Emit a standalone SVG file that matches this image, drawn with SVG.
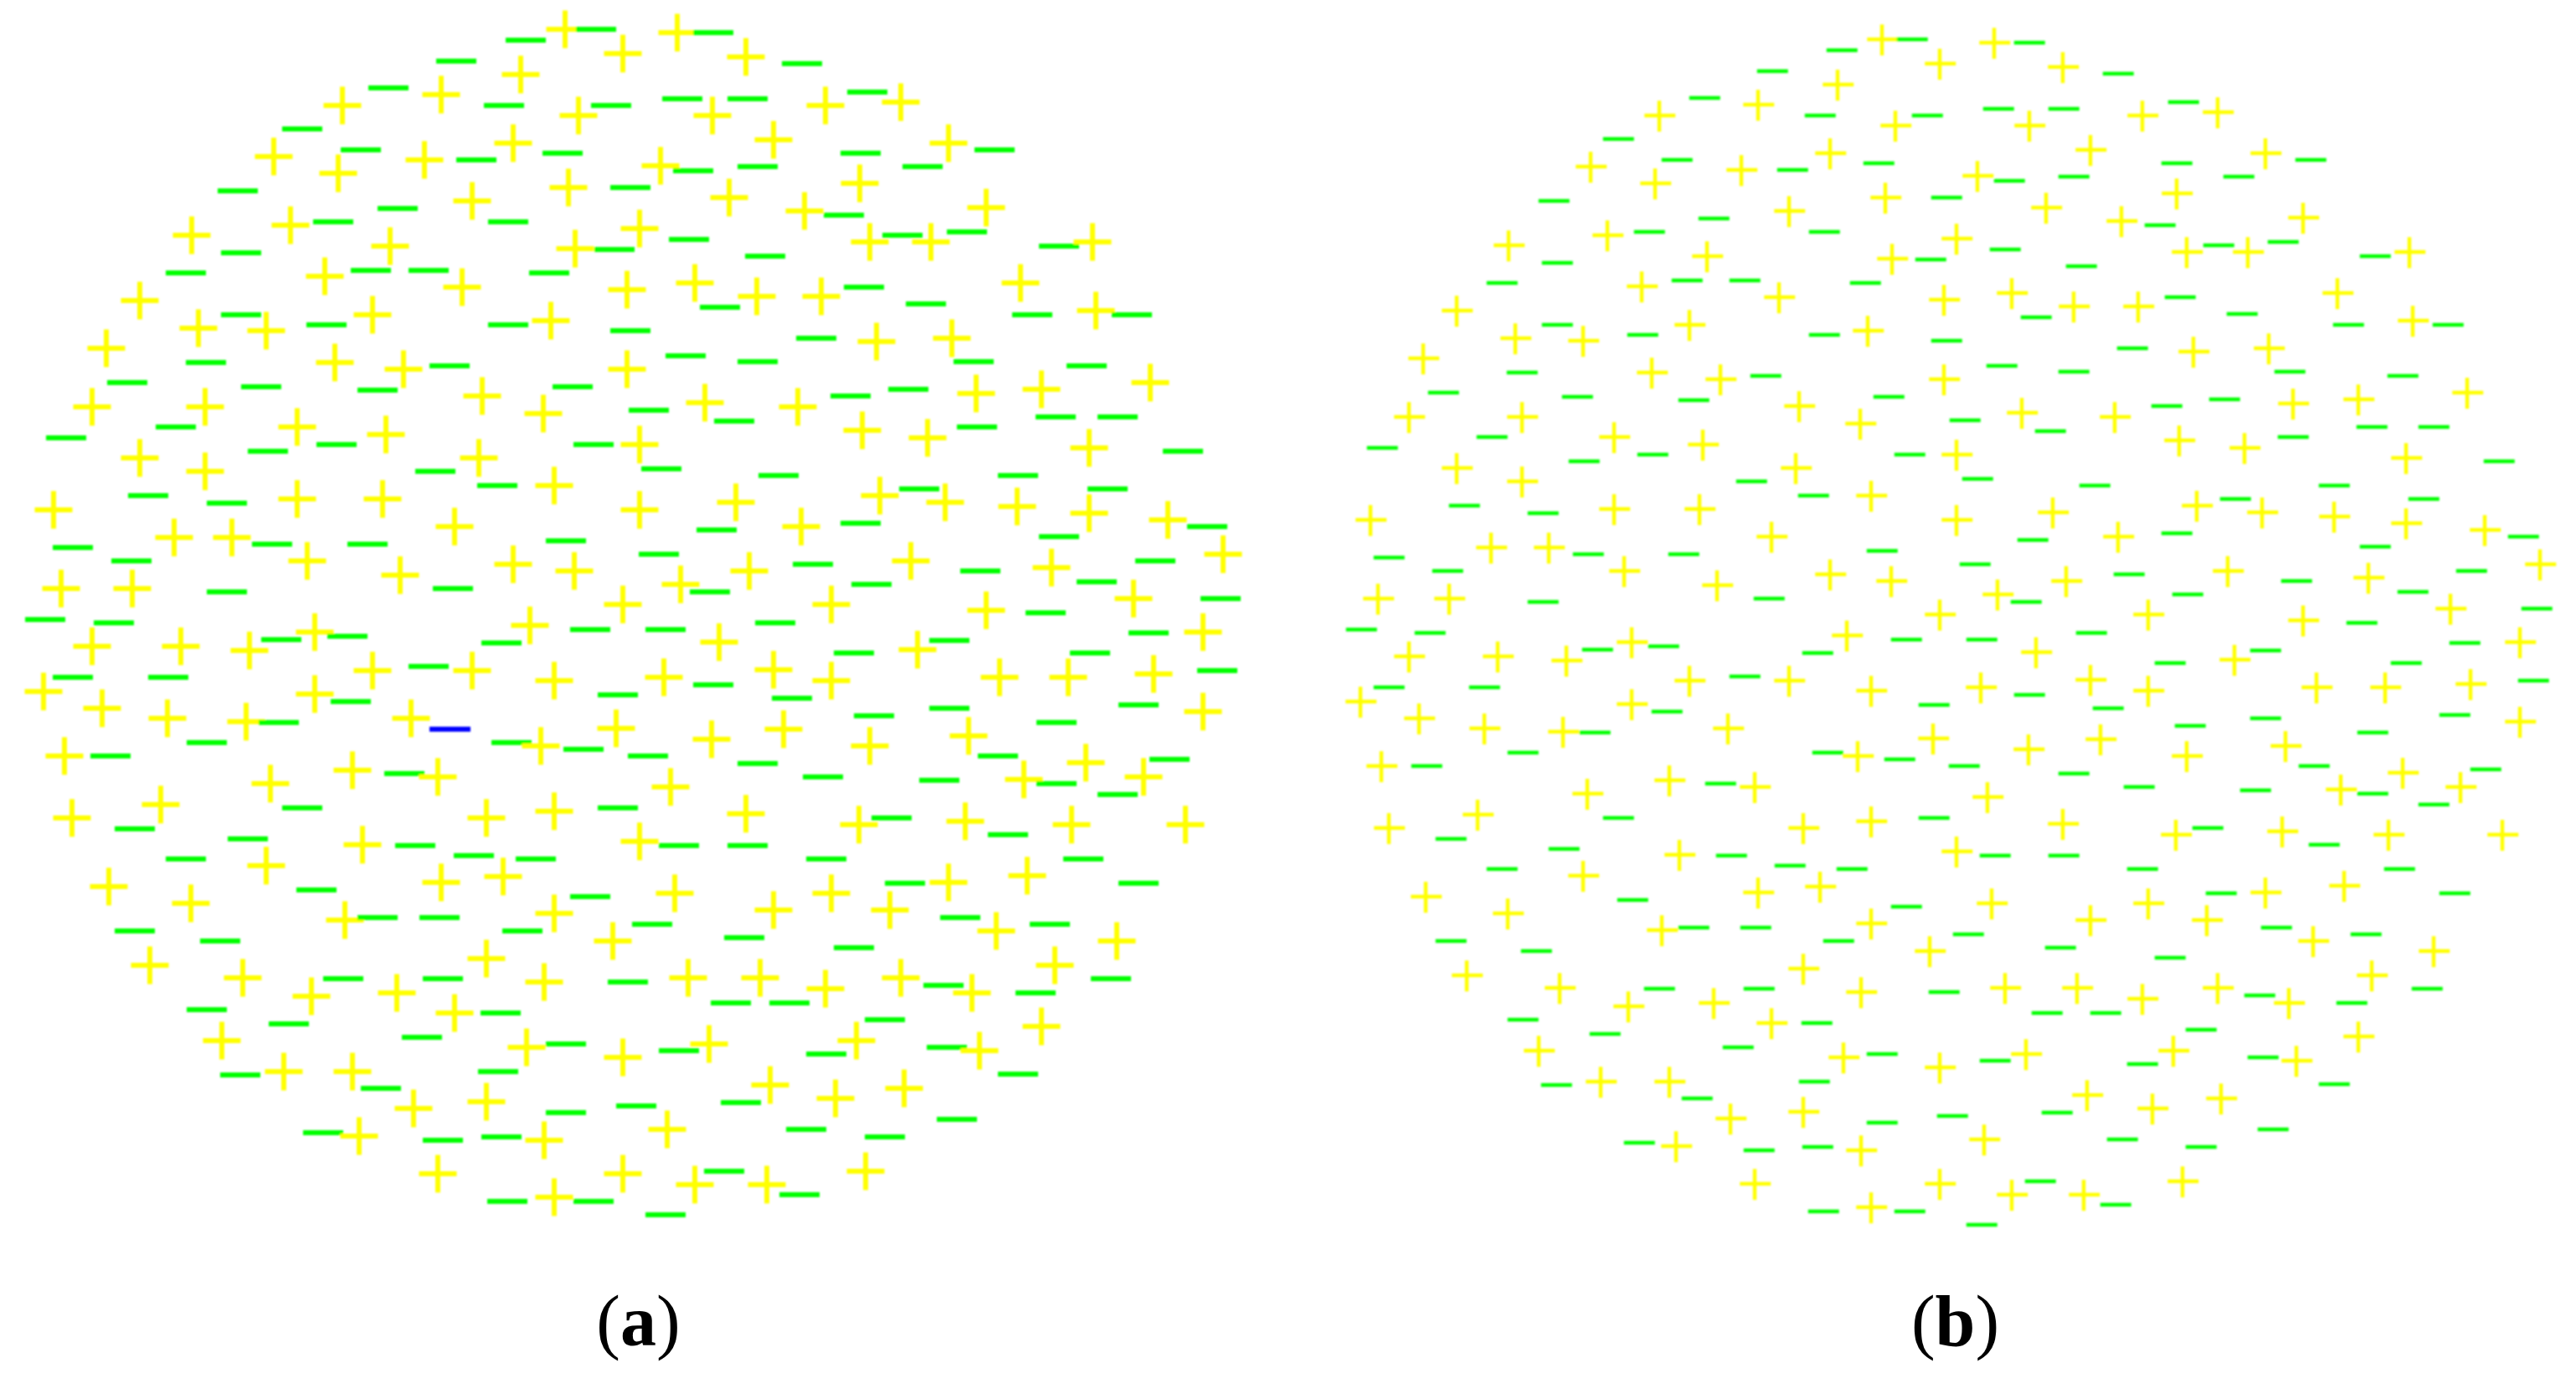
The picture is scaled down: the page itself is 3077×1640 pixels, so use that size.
<svg xmlns="http://www.w3.org/2000/svg" width="3077" height="1640" viewBox="0 0 3077 1640">
<style>
.pa{fill:none;stroke-width:6}
.pb{fill:none;stroke-width:4.5;stroke-dasharray:37 200;stroke-dashoffset:232.25}
.lbl{font-family:"Liberation Serif","Times New Roman",serif;font-size:86px;fill:#000;text-anchor:middle}
</style>
<defs>
<filter id="soft" x="-5%" y="-5%" width="110%" height="110%"><feGaussianBlur stdDeviation="1.1"/></filter>
<path id="P" d="M-22.5,0H22.5M0,-22.5V22.5" stroke="#ffff00"/>
<path id="M" d="M-24,0H24" stroke="#00ff00"/>
<g id="field">
<use href="#P" x="675" y="35"/><use href="#M" x="712" y="35"/><use href="#M" x="628" y="48"/><use href="#P" x="744" y="64"/><use href="#M" x="545" y="73"/><use href="#P" x="622" y="89"/><use href="#M" x="464" y="105"/><use href="#P" x="527" y="113"/><use href="#P" x="409" y="126"/><use href="#M" x="602" y="126"/><use href="#M" x="730" y="126"/><use href="#P" x="691" y="138"/><use href="#M" x="361" y="154"/><use href="#P" x="613" y="171"/><use href="#M" x="431" y="179"/><use href="#M" x="672" y="183"/><use href="#P" x="327" y="187"/><use href="#P" x="507" y="191"/><use href="#M" x="569" y="191"/><use href="#P" x="404" y="207"/><use href="#P" x="679" y="224"/><use href="#M" x="753" y="224"/><use href="#M" x="284" y="228"/><use href="#P" x="564" y="240"/><use href="#M" x="475" y="249"/><use href="#M" x="398" y="265"/><use href="#P" x="347" y="269"/><use href="#M" x="607" y="265"/><use href="#P" x="229" y="281"/><use href="#P" x="466" y="294"/><use href="#M" x="288" y="302"/><use href="#P" x="687" y="297"/><use href="#M" x="734" y="298"/><use href="#M" x="222" y="326"/><use href="#P" x="388" y="330"/><use href="#M" x="443" y="323"/><use href="#M" x="512" y="323"/><use href="#P" x="552" y="343"/><use href="#M" x="656" y="326"/><use href="#P" x="749" y="346"/><use href="#P" x="167" y="359"/><use href="#M" x="288" y="376"/><use href="#P" x="237" y="392"/><use href="#P" x="318" y="395"/><use href="#M" x="390" y="388"/><use href="#P" x="445" y="376"/><use href="#M" x="607" y="388"/><use href="#P" x="658" y="383"/><use href="#M" x="753" y="395"/><use href="#P" x="127" y="416"/><use href="#P" x="400" y="433"/><use href="#M" x="246" y="433"/><use href="#P" x="482" y="441"/><use href="#M" x="537" y="437"/><use href="#P" x="749" y="441"/><use href="#M" x="152" y="457"/><use href="#M" x="312" y="462"/><use href="#M" x="451" y="466"/><use href="#P" x="576" y="473"/><use href="#M" x="684" y="462"/><use href="#P" x="110" y="486"/><use href="#P" x="245" y="486"/><use href="#P" x="649" y="494"/><use href="#M" x="775" y="490"/><use href="#P" x="355" y="510"/><use href="#M" x="210" y="510"/><use href="#M" x="79" y="523"/><use href="#P" x="461" y="519"/><use href="#M" x="402" y="531"/><use href="#M" x="709" y="531"/><use href="#P" x="764" y="531"/><use href="#M" x="320" y="539"/><use href="#P" x="167" y="547"/><use href="#P" x="245" y="563"/><use href="#P" x="572" y="547"/><use href="#M" x="520" y="563"/><use href="#M" x="594" y="580"/><use href="#P" x="662" y="580"/><use href="#P" x="355" y="596"/><use href="#P" x="457" y="596"/><use href="#M" x="177" y="592"/><use href="#M" x="271" y="601"/><use href="#P" x="64" y="609"/><use href="#P" x="764" y="609"/><use href="#P" x="543" y="629"/><use href="#P" x="208" y="642"/><use href="#P" x="277" y="642"/><use href="#M" x="325" y="650"/><use href="#M" x="439" y="650"/><use href="#M" x="676" y="646"/><use href="#M" x="87" y="654"/><use href="#P" x="367" y="670"/><use href="#M" x="157" y="670"/><use href="#P" x="613" y="674"/><use href="#P" x="686" y="682"/><use href="#P" x="478" y="687"/><use href="#P" x="73" y="703"/><use href="#P" x="158" y="703"/><use href="#M" x="271" y="707"/><use href="#M" x="541" y="703"/><use href="#P" x="744" y="722"/>
<use href="#P" x="809" y="39"/><use href="#M" x="852" y="39"/><use href="#P" x="891" y="68"/><use href="#M" x="958" y="76"/><use href="#M" x="815" y="118"/><use href="#M" x="893" y="118"/><use href="#P" x="851" y="138"/><use href="#P" x="986" y="126"/><use href="#M" x="1036" y="110"/><use href="#P" x="1076" y="122"/><use href="#P" x="924" y="167"/><use href="#P" x="1133" y="171"/><use href="#M" x="1188" y="179"/><use href="#M" x="1028" y="183"/><use href="#P" x="789" y="198"/><use href="#M" x="828" y="204"/><use href="#M" x="905" y="199"/><use href="#M" x="1102" y="199"/><use href="#P" x="1027" y="219"/><use href="#P" x="871" y="236"/><use href="#P" x="961" y="252"/><use href="#M" x="1008" y="257"/><use href="#P" x="1178" y="248"/><use href="#P" x="764" y="273"/><use href="#M" x="823" y="286"/><use href="#M" x="914" y="306"/><use href="#P" x="1039" y="289"/><use href="#M" x="1078" y="281"/><use href="#P" x="1112" y="289"/><use href="#M" x="1155" y="277"/><use href="#M" x="1265" y="294"/><use href="#P" x="1305" y="289"/><use href="#P" x="830" y="338"/><use href="#M" x="860" y="367"/><use href="#P" x="904" y="354"/><use href="#P" x="981" y="354"/><use href="#M" x="1032" y="343"/><use href="#M" x="1106" y="363"/><use href="#P" x="1219" y="338"/><use href="#M" x="1233" y="376"/><use href="#P" x="1309" y="371"/><use href="#M" x="1352" y="376"/><use href="#M" x="975" y="404"/><use href="#P" x="1047" y="408"/><use href="#P" x="1137" y="404"/><use href="#M" x="1163" y="432"/><use href="#M" x="819" y="425"/><use href="#M" x="905" y="432"/><use href="#M" x="1298" y="437"/><use href="#P" x="1374" y="457"/><use href="#P" x="842" y="481"/><use href="#M" x="877" y="503"/><use href="#P" x="953" y="486"/><use href="#M" x="1016" y="473"/><use href="#M" x="1085" y="465"/><use href="#P" x="1166" y="470"/><use href="#P" x="1244" y="465"/><use href="#M" x="1261" y="498"/><use href="#M" x="1335" y="498"/><use href="#M" x="790" y="560"/><use href="#P" x="1030" y="514"/><use href="#P" x="1108" y="523"/><use href="#M" x="1167" y="510"/><use href="#P" x="1301" y="535"/><use href="#M" x="1413" y="539"/><use href="#M" x="930" y="568"/><use href="#M" x="1216" y="568"/><use href="#P" x="879" y="600"/><use href="#P" x="1051" y="592"/><use href="#M" x="1098" y="584"/><use href="#P" x="1129" y="600"/><use href="#P" x="1215" y="605"/><use href="#M" x="1323" y="584"/><use href="#P" x="1301" y="613"/><use href="#P" x="1395" y="621"/><use href="#M" x="1442" y="629"/><use href="#M" x="856" y="633"/><use href="#P" x="957" y="629"/><use href="#M" x="1028" y="625"/><use href="#M" x="1265" y="641"/><use href="#M" x="787" y="662"/><use href="#P" x="895" y="682"/><use href="#M" x="971" y="674"/><use href="#P" x="1088" y="670"/><use href="#M" x="1171" y="682"/><use href="#P" x="1256" y="678"/><use href="#M" x="1380" y="670"/><use href="#P" x="1461" y="662"/><use href="#P" x="813" y="698"/><use href="#M" x="848" y="707"/><use href="#M" x="1041" y="698"/><use href="#M" x="1310" y="695"/><use href="#P" x="1354" y="715"/><use href="#M" x="1458" y="715"/><use href="#P" x="993" y="722"/><use href="#P" x="1178" y="729"/><use href="#M" x="1249" y="732"/>
<use href="#M" x="54" y="740"/><use href="#M" x="136" y="744"/><use href="#P" x="110" y="772"/><use href="#P" x="216" y="772"/><use href="#P" x="298" y="777"/><use href="#M" x="336" y="764"/><use href="#P" x="376" y="755"/><use href="#M" x="415" y="760"/><use href="#P" x="633" y="747"/><use href="#M" x="705" y="752"/><use href="#M" x="599" y="768"/><use href="#M" x="87" y="809"/><use href="#M" x="201" y="809"/><use href="#P" x="445" y="801"/><use href="#M" x="512" y="796"/><use href="#P" x="564" y="801"/><use href="#P" x="662" y="813"/><use href="#P" x="52" y="826"/><use href="#P" x="122" y="846"/><use href="#P" x="376" y="829"/><use href="#M" x="419" y="838"/><use href="#P" x="200" y="858"/><use href="#P" x="294" y="862"/><use href="#M" x="333" y="863"/><use href="#P" x="491" y="858"/><use href="#M" x="738" y="830"/><use href="#P" x="736" y="870"/><use href="#M" x="247" y="887"/><use href="#P" x="77" y="903"/><use href="#M" x="132" y="903"/><use href="#M" x="611" y="887"/><use href="#P" x="646" y="891"/><use href="#M" x="697" y="895"/><use href="#P" x="323" y="936"/><use href="#P" x="421" y="920"/><use href="#M" x="483" y="924"/><use href="#P" x="523" y="928"/><use href="#P" x="192" y="961"/><use href="#P" x="86" y="977"/><use href="#M" x="361" y="965"/><use href="#P" x="581" y="977"/><use href="#P" x="662" y="969"/><use href="#M" x="738" y="965"/><use href="#M" x="161" y="990"/><use href="#M" x="296" y="1002"/><use href="#P" x="433" y="1009"/><use href="#M" x="496" y="1010"/><use href="#M" x="566" y="1022"/><use href="#M" x="640" y="1026"/><use href="#M" x="222" y="1026"/><use href="#P" x="318" y="1034"/><use href="#P" x="130" y="1059"/><use href="#P" x="527" y="1054"/><use href="#P" x="601" y="1047"/><use href="#M" x="378" y="1063"/><use href="#P" x="228" y="1079"/><use href="#M" x="705" y="1071"/><use href="#P" x="412" y="1099"/><use href="#M" x="451" y="1096"/><use href="#M" x="525" y="1096"/><use href="#P" x="662" y="1091"/><use href="#M" x="624" y="1112"/><use href="#P" x="732" y="1124"/><use href="#M" x="161" y="1112"/><use href="#M" x="263" y="1124"/><use href="#P" x="179" y="1153"/><use href="#P" x="581" y="1145"/><use href="#P" x="290" y="1168"/><use href="#M" x="410" y="1169"/><use href="#M" x="529" y="1169"/><use href="#P" x="650" y="1173"/><use href="#M" x="750" y="1173"/><use href="#P" x="372" y="1190"/><use href="#P" x="474" y="1186"/><use href="#P" x="543" y="1210"/><use href="#M" x="598" y="1210"/><use href="#M" x="247" y="1206"/><use href="#M" x="345" y="1223"/><use href="#P" x="265" y="1243"/><use href="#M" x="504" y="1239"/><use href="#P" x="629" y="1251"/><use href="#M" x="676" y="1247"/><use href="#P" x="744" y="1263"/><use href="#M" x="287" y="1284"/><use href="#P" x="339" y="1280"/><use href="#P" x="421" y="1280"/><use href="#M" x="455" y="1300"/><use href="#M" x="595" y="1280"/><use href="#P" x="494" y="1324"/><use href="#P" x="581" y="1316"/><use href="#M" x="676" y="1329"/><use href="#M" x="386" y="1353"/><use href="#P" x="429" y="1357"/><use href="#M" x="529" y="1362"/><use href="#M" x="599" y="1358"/><use href="#P" x="650" y="1362"/><use href="#P" x="523" y="1402"/><use href="#P" x="744" y="1402"/><use href="#M" x="606" y="1435"/><use href="#P" x="662" y="1430"/><use href="#M" x="709" y="1435"/>
<use href="#M" x="795" y="752"/><use href="#M" x="926" y="744"/><use href="#P" x="859" y="767"/><use href="#M" x="1134" y="765"/><use href="#P" x="1096" y="776"/><use href="#M" x="1372" y="756"/><use href="#P" x="1437" y="755"/><use href="#M" x="1020" y="780"/><use href="#M" x="1302" y="780"/><use href="#P" x="793" y="809"/><use href="#P" x="924" y="800"/><use href="#P" x="993" y="813"/><use href="#M" x="852" y="818"/><use href="#M" x="946" y="834"/><use href="#P" x="1194" y="809"/><use href="#P" x="1276" y="809"/><use href="#P" x="1378" y="805"/><use href="#M" x="1454" y="801"/><use href="#M" x="1044" y="855"/><use href="#M" x="1134" y="846"/><use href="#M" x="1262" y="863"/><use href="#M" x="1360" y="842"/><use href="#P" x="1437" y="850"/><use href="#P" x="850" y="883"/><use href="#P" x="936" y="871"/><use href="#P" x="1039" y="891"/><use href="#P" x="1157" y="879"/><use href="#M" x="774" y="903"/><use href="#M" x="905" y="912"/><use href="#M" x="1192" y="903"/><use href="#P" x="1297" y="911"/><use href="#M" x="1397" y="907"/><use href="#P" x="801" y="940"/><use href="#M" x="983" y="928"/><use href="#M" x="1122" y="932"/><use href="#P" x="1223" y="931"/><use href="#M" x="1262" y="936"/><use href="#P" x="1366" y="928"/><use href="#M" x="1335" y="949"/><use href="#P" x="891" y="972"/><use href="#P" x="1026" y="985"/><use href="#M" x="1065" y="977"/><use href="#P" x="1153" y="981"/><use href="#M" x="1204" y="997"/><use href="#P" x="1280" y="985"/><use href="#P" x="1416" y="985"/><use href="#P" x="764" y="1005"/><use href="#M" x="811" y="1010"/><use href="#M" x="893" y="1010"/><use href="#M" x="987" y="1026"/><use href="#M" x="1294" y="1026"/><use href="#P" x="1227" y="1046"/><use href="#P" x="806" y="1067"/><use href="#P" x="993" y="1067"/><use href="#M" x="1081" y="1055"/><use href="#P" x="1133" y="1054"/><use href="#M" x="1360" y="1055"/><use href="#P" x="924" y="1087"/><use href="#P" x="1063" y="1087"/><use href="#M" x="779" y="1104"/><use href="#M" x="1147" y="1096"/><use href="#P" x="1190" y="1112"/><use href="#M" x="1254" y="1104"/><use href="#P" x="1334" y="1124"/><use href="#M" x="889" y="1120"/><use href="#M" x="1020" y="1132"/><use href="#P" x="1260" y="1153"/><use href="#P" x="822" y="1168"/><use href="#P" x="908" y="1168"/><use href="#P" x="986" y="1181"/><use href="#P" x="1076" y="1168"/><use href="#M" x="1127" y="1177"/><use href="#P" x="1161" y="1186"/><use href="#M" x="1237" y="1186"/><use href="#M" x="1327" y="1169"/><use href="#M" x="873" y="1198"/><use href="#M" x="943" y="1198"/><use href="#M" x="1057" y="1218"/><use href="#P" x="1244" y="1226"/><use href="#M" x="811" y="1255"/><use href="#P" x="847" y="1247"/><use href="#M" x="987" y="1259"/><use href="#P" x="1023" y="1243"/><use href="#M" x="1131" y="1251"/><use href="#P" x="1170" y="1255"/><use href="#M" x="1216" y="1283"/><use href="#P" x="920" y="1296"/><use href="#P" x="998" y="1312"/><use href="#P" x="1080" y="1300"/><use href="#M" x="760" y="1321"/><use href="#M" x="885" y="1317"/><use href="#P" x="797" y="1349"/><use href="#M" x="963" y="1349"/><use href="#M" x="1057" y="1358"/><use href="#M" x="1143" y="1337"/><use href="#P" x="830" y="1415"/><use href="#M" x="865" y="1399"/><use href="#P" x="916" y="1415"/><use href="#M" x="955" y="1427"/><use href="#P" x="1034" y="1399"/><use href="#M" x="795" y="1451"/>
</g>
</defs>
<g id="panel-a" class="pa" filter="url(#soft)">
<use href="#field"/>
<path id="blue-minus" d="M513,871H562" stroke="#0000ff"/>
</g>
<g id="panel-b" class="pb" filter="url(#soft)">
<use href="#field" transform="translate(1573,12)"/>
</g>
<g id="labels">
<text id="label-a" class="lbl" x="762.5" y="1607">(<tspan font-weight="bold">a</tspan>)</text>
<text id="label-b" class="lbl" x="2335.5" y="1607">(<tspan font-weight="bold">b</tspan>)</text>
</g>
</svg>
